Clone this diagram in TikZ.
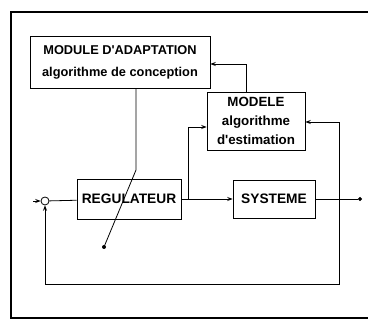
\documentclass[tikz,border=0pt]{standalone}
\usepackage{fontspec}
\setmainfont{Liberation Sans}
\usetikzlibrary{arrows.meta}
\begin{document}
\begin{tikzpicture}[x=0.75pt,y=-0.75pt,
  blk/.style={draw,line width=0.6pt,inner sep=0pt,align=center,font=\fontsize{10.3}{13}\selectfont\bfseries},
  conn/.style={line width=0.6pt},
  arr/.style={conn,-{Stealth[length=4pt,width=3pt]}},
  frame/.style={line width=1.3pt}]
\useasboundingbox (0,0) rectangle (368,320);
\draw[frame] (368,12) -- (11,12) -- (11,318) -- (368,318);
\node[blk,minimum width=180*0.75pt,minimum height=52*0.75pt,font=\fontsize{9.6}{16.5}\selectfont\bfseries] (module) at (120,62) {MODULE D\textquotesingle ADAPTATION\\algorithme de conception};
\node[blk,minimum width=98*0.75pt,minimum height=58*0.75pt,font=\fontsize{10}{14}\selectfont\bfseries] (modele) at (256,121) {MODELE\\algorithme\\d\textquotesingle estimation};
\node[blk,minimum width=104*0.75pt,minimum height=40*0.75pt] (regul) at (129,199) {REGULATEUR};
\node[blk,minimum width=82*0.75pt,minimum height=38*0.75pt] (sys) at (274,199) {SYSTEME};
\node[draw,circle,line width=0.6pt,minimum size=8*0.75pt,inner sep=0pt] (sum) at (45,201) {};
\coordinate (in) at (33,201);
\coordinate (out) at (362,199);
\coordinate (m1) at (246,64);
\coordinate (b1) at (188,199);
\coordinate (b2) at (339,199);
\coordinate (fb1) at (339,284);
\coordinate (fb2) at (45,284);
\coordinate (adj1) at (136,170);
\coordinate (adj2) at (104,247);
% forward path
\draw[arr] (in) -- (sum);
\draw[conn] (sum) -- (regul);
\draw[arr] (regul) -- (sys);
\draw[conn,-{Circle[length=3pt]}] (sys) -- (out);
% modele inputs
\draw[arr] (b1) |- (modele.west |- 0,127);
\draw[arr] (b2) |- (modele.east |- 0,122);
% modele to module
\draw[arr] (modele.north -| m1) -- (m1) -- (module.east |- m1);
% module to regulator (adjustment)
\draw[conn] (module.south -| adj1) -- (adj1) -- (adj2);
\fill (adj2) circle (1.5pt);
% feedback
\draw[arr] (b2) -- (fb1) -- (fb2) -- (sum);
\end{tikzpicture}
\end{document}
